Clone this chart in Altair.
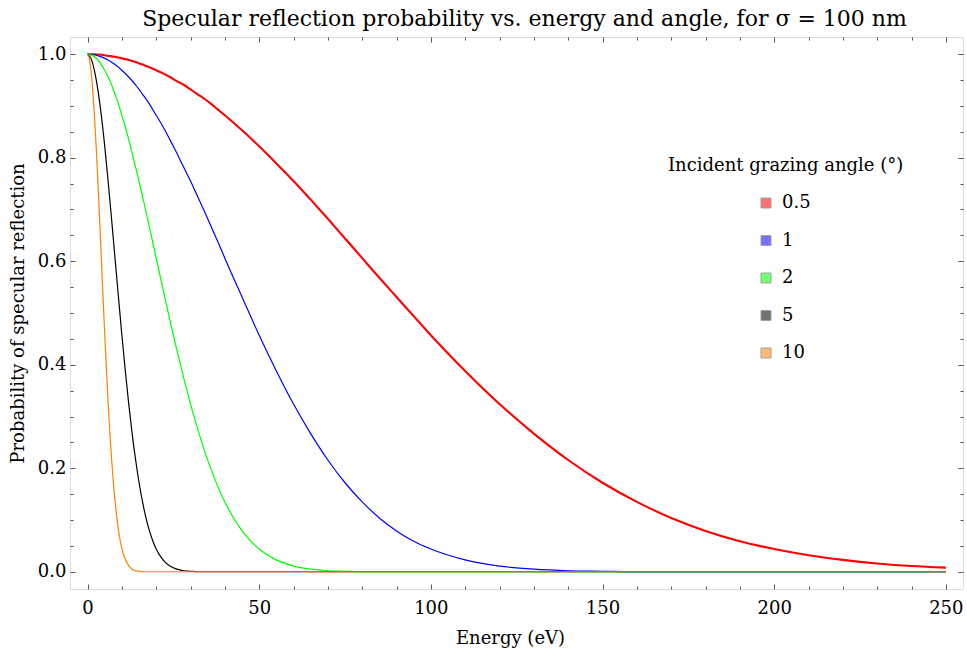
import altair as alt
import pandas as pd

# ---- series ----
angles = ["0.5", "1", "2", "5", "10"]
colors = ["#ff0000", "#0000ff", "#00ff00", "#000000", "#ff8000"]
line_widths = [2.1, 1.2, 1.2, 1.2, 1.2]

energy_05 = [0, 2, 4, 6, 8, 10, 12, 14, 16, 18, 20, 22, 24, 26, 28, 30, 32, 34, 36, 38, 40,
             45, 50, 55, 60, 65, 70, 75, 80, 85, 90, 95, 100,
             110, 120, 130, 140, 150, 160, 170, 180, 190, 200, 210, 220, 230, 240, 250]
prob_05 = [1.000, 1.000, 0.999, 0.997, 0.995, 0.992, 0.989, 0.985, 0.980, 0.975, 0.969,
           0.963, 0.956, 0.948, 0.941, 0.932, 0.923, 0.914, 0.904, 0.893, 0.882,
           0.853, 0.822, 0.789, 0.755, 0.719, 0.682, 0.644, 0.606, 0.568, 0.531, 0.494, 0.457,
           0.388, 0.324, 0.267, 0.216, 0.172, 0.135, 0.104, 0.079, 0.059, 0.044, 0.032,
           0.023, 0.016, 0.011, 0.008]

energy_1 = [0, 2, 4, 6, 8, 10, 12, 14, 16, 18, 20, 22, 24, 26, 28, 30, 32, 34, 36, 38, 40,
            45, 50, 55, 60, 65, 70, 75, 80, 85, 90, 95, 100,
            110, 120, 130, 140, 150, 160, 250]
prob_1 = [1.000, 0.999, 0.995, 0.989, 0.980, 0.969, 0.956, 0.941, 0.923, 0.904, 0.882,
          0.860, 0.835, 0.809, 0.782, 0.755, 0.726, 0.697, 0.667, 0.637, 0.606,
          0.531, 0.457, 0.388, 0.324, 0.267, 0.216, 0.172, 0.135, 0.104, 0.079, 0.059, 0.044,
          0.023, 0.011, 0.005, 0.002, 0.001, 0.000, 0.000]

energy_2 = [0, 1, 2, 3, 4, 5, 6, 7, 8, 9, 10, 11, 12, 13, 14, 15, 16, 17, 18, 19, 20,
            22, 24, 26, 28, 30, 32, 34, 36, 38, 40, 45, 50, 55, 60, 65, 70, 75, 80, 250]
prob_2 = [1.000, 0.999, 0.995, 0.989, 0.980, 0.969, 0.956, 0.941, 0.923, 0.904, 0.882,
          0.860, 0.835, 0.809, 0.782, 0.755, 0.726, 0.697, 0.667, 0.637, 0.606,
          0.546, 0.486, 0.429, 0.375, 0.324, 0.278, 0.235, 0.198, 0.164, 0.135,
          0.079, 0.044, 0.023, 0.011, 0.005, 0.002, 0.001, 0.000, 0.000]

energy_5 = [0, 1, 2, 3, 4, 5, 6, 7, 8, 9, 10, 11, 12, 13, 14, 15, 16, 17, 18, 19, 20,
            22, 24, 26, 28, 30, 32, 250]
prob_5 = [1.000, 0.992, 0.969, 0.932, 0.883, 0.823, 0.755, 0.682, 0.607, 0.532, 0.458,
          0.389, 0.325, 0.267, 0.217, 0.173, 0.136, 0.105, 0.080, 0.060, 0.044,
          0.023, 0.011, 0.005, 0.002, 0.001, 0.000, 0.000]

energy_10 = [0, 0.5, 1, 1.5, 2, 2.5, 3, 3.5, 4, 4.5, 5, 5.5, 6, 6.5, 7, 7.5, 8, 8.5, 9, 9.5, 10,
             11, 12, 13, 14, 15, 16, 250]
prob_10 = [1.000, 0.992, 0.969, 0.933, 0.883, 0.824, 0.757, 0.684, 0.609, 0.534, 0.461,
           0.392, 0.328, 0.270, 0.219, 0.175, 0.138, 0.107, 0.081, 0.061, 0.045,
           0.024, 0.012, 0.005, 0.002, 0.001, 0.000, 0.000]

x_ticks = list(range(0, 251, 10))
y_ticks = [round(i * 0.05, 2) for i in range(21)]

series = [(angles[0], energy_05, prob_05), (angles[1], energy_1, prob_1),
          (angles[2], energy_2, prob_2), (angles[3], energy_5, prob_5),
          (angles[4], energy_10, prob_10)]
rows = []
for a, es, ps in series:
    assert len(es) == len(ps)
    for e, p in zip(es, ps):
        rows.append({"angle": a, "energy": e, "prob": p})
df = pd.DataFrame(rows)

# ---- layout ----
W, H = 893, 552
FONT = "DejaVu Serif"
FRAME = "#555555"

x_axis = alt.Axis(
    values=x_ticks, title="Energy (eV)", ticks=False, tickSize=0, domain=False,
    grid=True, gridColor=FRAME, gridWidth=1, gridOpacity=1,
    gridDash={"condition": {"test": "datum.value % 50 === 0", "value": [5, H - 10, 5]},
              "value": [3, H - 6, 3]},
    labelExpr="datum.value % 50 === 0 ? datum.label : ''",
    labelOverlap=False, labelFlush=False, labelPadding=10,
    labelFont=FONT, labelFontSize=18, labelColor="black",
    titleFont=FONT, titleFontSize=18, titleFontWeight="normal", titleColor="black",
    titlePadding=12, titleX=440,
)
y_axis = alt.Axis(
    values=y_ticks, title="Probability of specular reflection", ticks=False, tickSize=0,
    domain=False, format=".1f",
    grid=True, gridColor=FRAME, gridWidth=1, gridOpacity=1,
    gridDash={"condition": {"test": "abs(datum.value * 5 - round(datum.value * 5)) < 0.001",
                            "value": [5, W - 10, 5]},
              "value": [3, W - 6, 3]},
    labelExpr="abs(datum.value * 5 - round(datum.value * 5)) < 0.001 ? datum.label : ''",
    labelOverlap=False, labelFlush=False, labelPadding=4,
    labelFont=FONT, labelFontSize=18, labelColor="black",
    titleFont=FONT, titleFontSize=18, titleFontWeight="normal", titleColor="black",
    titlePadding=10,
)

legend = alt.Legend(
    title="Incident grazing angle (°)", orient="none", legendX=598, legendY=120,
    padding=0, titleAnchor="start", titleLimit=400, titlePadding=19,
    titleFont=FONT, titleFontSize=18, titleFontWeight="normal", titleColor="black",
    labelFont=FONT, labelFontSize=18, labelColor="black",
    symbolType="square", symbolSize=100, symbolStrokeWidth=1,
    symbolStrokeColor="#555555", symbolOpacity=0.55,
    symbolOffset=89, labelOffset=7, rowPadding=19.5,
)

x_scale = alt.Scale(domain=[-5.1, 255], nice=False, zero=False)
y_scale = alt.Scale(domain=[-0.0333, 1.0333], nice=False, zero=False)
x_enc = alt.X("energy:Q", scale=x_scale, axis=x_axis)
y_enc = alt.Y("prob:Q", scale=y_scale, axis=y_axis)

layers = []
for a, c, w in zip(angles, colors, line_widths):
    layers.append(
        alt.Chart(df).transform_filter(alt.datum.angle == a)
        .mark_line(interpolate="monotone", color=c, strokeWidth=w)
        .encode(x=x_enc, y=y_enc)
    )

# legend-only layer (no rows pass the filter; entries come from the scale domain)
swatches = alt.Chart(df).transform_filter("false").mark_square(
    filled=True, size=100,
).encode(
    x=x_enc,
    y=y_enc,
    fill=alt.Fill("angle:N", scale=alt.Scale(domain=angles, range=colors), legend=legend),
)
layers.append(swatches)

chart = alt.layer(*layers).properties(
    width=W, height=H,
    title=alt.TitleParams(
        "Specular reflection probability vs. energy and angle, for σ = 100 nm",
        font=FONT, fontSize=22, fontWeight="normal", color="black", anchor="middle",
        offset=6, dx=8,
    ),
    autosize=alt.AutoSizeParams(type="none"),
    padding={"left": 70, "top": 37, "right": 4, "bottom": 69},
).configure_view(
    stroke=FRAME, strokeWidth=1,
).configure(background="white")

chart.save("out.html", embed_options={"renderer": "svg", "actions": False})
